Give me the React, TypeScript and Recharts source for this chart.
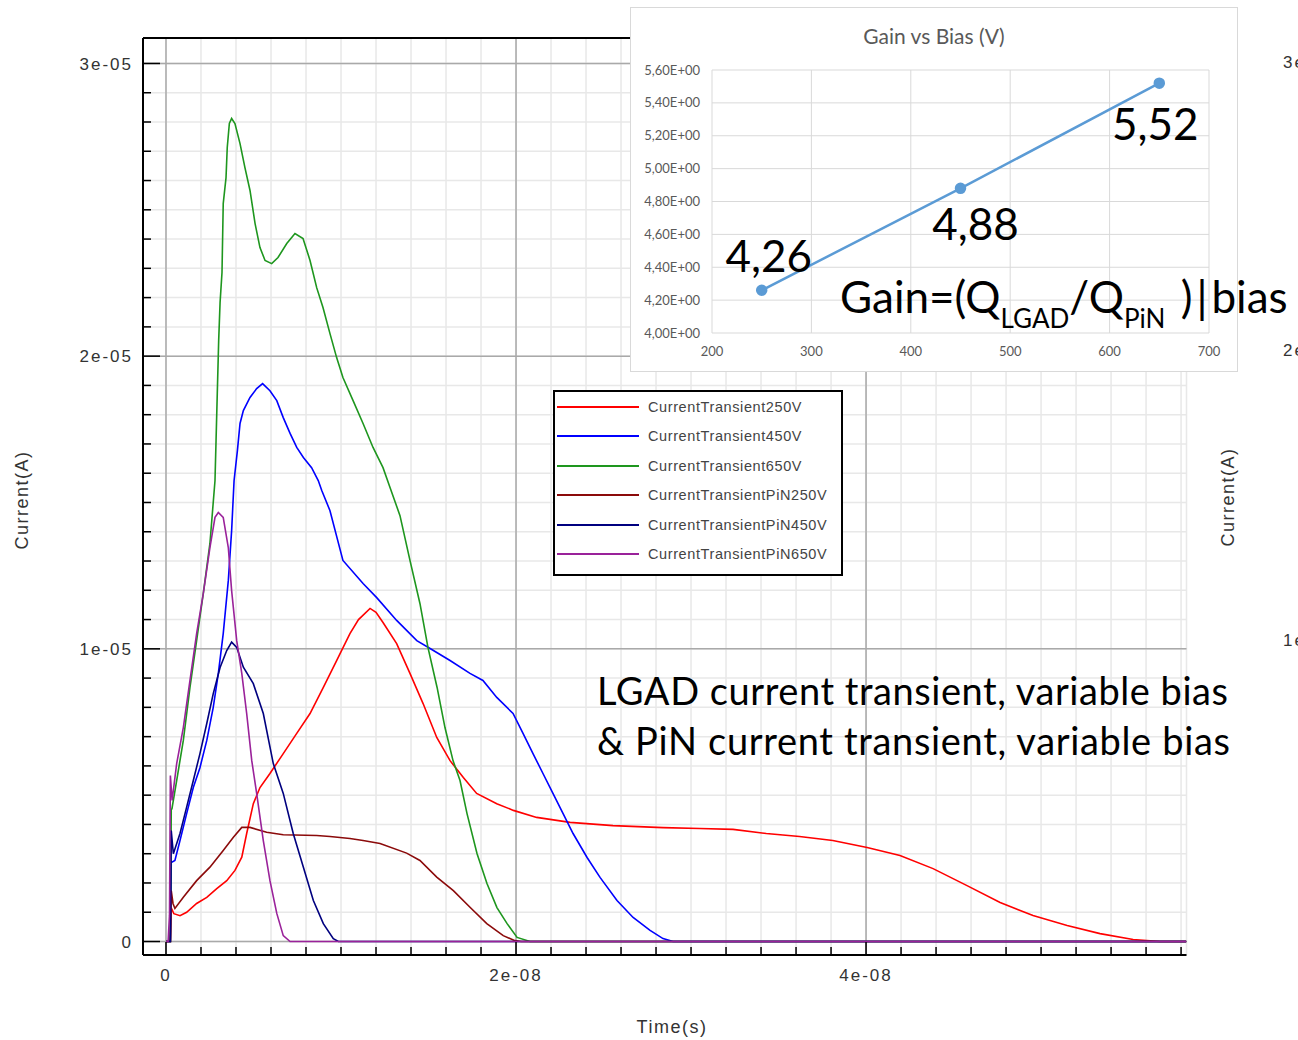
import React from "react";
import {
  LineChart,
  Line,
  XAxis,
  YAxis,
  CartesianGrid,
  ReferenceLine,
  Legend,
  LabelList,
} from "recharts";

// [time (ns), current (µA)]
const lgad250: [number, number][] = [
  [0, 0], [0.25, 0], [0.3, 1.15], [0.45, 0.95], [0.8, 0.88], [1.18, 1.0], [1.75, 1.3],
  [2.33, 1.51], [2.9, 1.81], [3.47, 2.08], [3.94, 2.43], [4.33, 2.88], [4.61, 3.69],
  [4.99, 4.71], [5.37, 5.26], [5.94, 5.74], [6.7, 6.42], [7.47, 7.11], [8.23, 7.79],
  [8.99, 8.68], [9.75, 9.6], [10.51, 10.52], [11.0, 11.0], [11.66, 11.38], [12.0, 11.25],
  [12.4, 10.9], [13.18, 10.18], [13.94, 9.16], [14.69, 8.13], [15.47, 6.97], [16.23, 6.18],
  [16.99, 5.6], [17.75, 5.06], [18.9, 4.71], [19.85, 4.48], [21.18, 4.24], [23.09, 4.07],
  [25.54, 3.96], [28.4, 3.89], [30.5, 3.86], [32.4, 3.83], [34.3, 3.69], [36.2, 3.59],
  [38.1, 3.45], [40.06, 3.21], [41.94, 2.94], [43.83, 2.49], [45.77, 1.91], [47.66, 1.33],
  [49.54, 0.89], [51.49, 0.55], [53.37, 0.27], [55.26, 0.07], [56.8, 0], [58.3, 0],
];

const lgad450: [number, number][] = [
  [0, 0], [0.25, 0], [0.3, 2.7], [0.51, 2.77], [0.8, 3.45], [1.18, 4.37], [1.56, 5.26],
  [1.94, 5.94], [2.33, 6.87], [2.7, 8.0], [2.99, 9.16], [3.27, 10.52], [3.56, 12.33],
  [3.75, 14.04], [3.89, 15.75], [4.08, 16.77], [4.23, 17.7], [4.42, 18.14], [4.8, 18.59],
  [5.18, 18.89], [5.52, 19.06], [5.94, 18.82], [6.33, 18.48], [6.7, 17.9], [7.09, 17.36],
  [7.47, 16.88], [7.85, 16.54], [8.32, 16.19], [8.7, 15.75], [8.9, 15.41], [9.37, 14.72],
  [10.11, 13.02], [11.26, 12.23], [12.04, 11.75], [13.18, 10.97], [14.33, 10.28],
  [15.09, 10.01], [16.23, 9.6], [17.37, 9.16], [18.11, 8.92], [18.9, 8.34], [19.83, 7.79],
  [20.4, 7.11], [20.97, 6.42], [21.54, 5.74], [22.11, 5.06], [22.69, 4.37], [23.26, 3.69],
  [24.06, 2.87], [24.8, 2.19], [25.77, 1.4], [26.69, 0.82], [27.66, 0.38], [28.4, 0.1],
  [28.97, 0], [58.3, 0],
];

const lgad650: [number, number][] = [
  [0, 0], [0.25, 0], [0.3, 4.5], [0.34, 4.54], [0.61, 5.5], [0.99, 6.87], [1.37, 8.68],
  [1.75, 10.28], [2.13, 11.89], [2.51, 13.6], [2.8, 15.75], [2.86, 17.12], [2.93, 18.72],
  [3.01, 20.53], [3.09, 21.83], [3.2, 22.86], [3.27, 25.21], [3.43, 26.1], [3.5, 27.13],
  [3.62, 27.95], [3.75, 28.12], [3.94, 27.95], [4.23, 27.26], [4.51, 26.44], [4.8, 25.66],
  [5.09, 24.53], [5.37, 23.71], [5.66, 23.27], [6.04, 23.16], [6.4, 23.37], [6.9, 23.85],
  [7.37, 24.19], [7.83, 24.02], [8.23, 23.27], [8.61, 22.34], [8.97, 21.66], [9.37, 20.77],
  [9.75, 19.95], [10.11, 19.27], [10.69, 18.48], [11.26, 17.7], [11.83, 16.88],
  [12.4, 16.19], [12.8, 15.51], [13.37, 14.55], [13.94, 13.02], [14.51, 11.55],
  [14.97, 10.04], [15.49, 8.68], [15.94, 7.31], [16.4, 6.18], [16.8, 5.5], [17.2, 4.37],
  [17.77, 3.01], [18.34, 1.98], [18.91, 1.16], [19.49, 0.61], [20.06, 0.14], [20.8, 0],
  [58.3, 0],
];

const pin250: [number, number][] = [
  [0, 0], [0.25, 0], [0.3, 1.74], [0.4, 1.3], [0.51, 1.13], [0.99, 1.51], [1.75, 2.08],
  [2.51, 2.54], [3.27, 3.11], [3.85, 3.56], [4.33, 3.9], [4.8, 3.9], [5.75, 3.73],
  [6.7, 3.65], [8.61, 3.62], [9.37, 3.59], [10.51, 3.52], [11.26, 3.45], [12.23, 3.35],
  [13.75, 3.02], [14.51, 2.77], [15.47, 2.2], [16.42, 1.74], [17.37, 1.17], [18.33, 0.61],
  [19.27, 0.2], [19.94, 0.03], [20.3, 0], [58.3, 0],
];

const pin450: [number, number][] = [
  [0, 0], [0.25, 0], [0.3, 3.79], [0.42, 3.0], [0.8, 3.69], [1.18, 4.59], [1.56, 5.5],
  [1.94, 6.42], [2.33, 7.45], [2.7, 8.47], [3.09, 9.36], [3.47, 9.94], [3.75, 10.23],
  [4.04, 10.05], [4.42, 9.37], [4.99, 8.81], [5.56, 7.79], [6.13, 6.08], [6.7, 5.06],
  [7.27, 3.69], [7.85, 2.54], [8.42, 1.4], [8.99, 0.61], [9.56, 0.1], [9.85, 0], [58.3, 0],
];

const pin650: [number, number][] = [
  [0, 0], [0.12, 0], [0.2, 0.9], [0.25, 5.67], [0.35, 4.82], [0.61, 6.08], [0.99, 7.31],
  [1.37, 8.92], [1.75, 10.52], [2.13, 11.89], [2.51, 13.46], [2.8, 14.49], [2.99, 14.66],
  [3.27, 14.49], [3.56, 13.46], [3.75, 11.99], [4.04, 10.28], [4.33, 9.16], [4.61, 7.79],
  [4.9, 6.18], [5.18, 5.06], [5.56, 3.45], [5.94, 2.08], [6.33, 0.96], [6.7, 0.2],
  [7.09, 0], [58.3, 0],
];

const seriesList = [
  { name: "CurrentTransient250V", points: lgad250, color: "#ff0000" },
  { name: "CurrentTransient450V", points: lgad450, color: "#0000ff" },
  { name: "CurrentTransient650V", points: lgad650, color: "#1e961e" },
  { name: "CurrentTransientPiN250V", points: pin250, color: "#8b0a0a" },
  { name: "CurrentTransientPiN450V", points: pin450, color: "#00007f" },
  { name: "CurrentTransientPiN650V", points: pin650, color: "#9a229a" },
];

const xMajor = [0, 20, 40];
const xMajorLabels = ["0", "2e-08", "4e-08"];
const yMajor = [0, 10, 20, 30];
const yMajorLabels = ["0", "1e-05", "2e-05", "3e-05"];
const xMinor = Array.from({ length: 30 }, (_, i) => i * 2);
const yMinor = Array.from({ length: 31 }, (_, i) => i);

// inset: gain vs bias
const biasV = [250, 450, 650];
const gainVals = [4.26, 4.88, 5.52];
const biasTicks = [200, 300, 400, 500, 600, 700];
const gainTicks = [4.0, 4.2, 4.4, 4.6, 4.8, 5.0, 5.2, 5.4, 5.6];
const gainLabelOffsets = [
  [7, -18],
  [15, 52],
  [-4, 57],
];

// the neighbouring chart's labels, cut by the right edge
const sideLabelY = [62, 350, 640];

const X_DOMAIN: [number, number] = [-1.314, 58.31];
const Y_DOMAIN: [number, number] = [-0.461, 30.87];

const axisFont = "'Liberation Sans', Arial, sans-serif";
const calibriLike = "Lato, 'Open Sans', sans-serif";

function YTick(props: any) {
  const { x, y, payload } = props;
  const idx = yMajor.indexOf(payload.value);
  const major = idx >= 0;
  return (
    <g>
      <line x1={x} x2={x + (major ? 17 : 8)} y1={y} y2={y} stroke="#000" strokeWidth={1.5} />
      {major && (
        <text
          x={x - 10}
          y={y}
          dy="0.36em"
          textAnchor="end"
          fontSize={17}
          fontFamily={axisFont}
          fill="#333"
          style={{ letterSpacing: 2 }}
        >
          {yMajorLabels[idx]}
        </text>
      )}
    </g>
  );
}

function XTick(props: any) {
  const { x, y, payload } = props;
  const idx = xMajor.indexOf(payload.value);
  const major = idx >= 0;
  return (
    <g>
      <line x1={x} x2={x} y1={y} y2={y - (major ? 13 : 8)} stroke="#000" strokeWidth={1.5} />
      {major && (
        <text
          x={x}
          y={y + 20}
          dy="0.36em"
          textAnchor="middle"
          fontSize={17}
          fontFamily={axisFont}
          fill="#333"
          style={{ letterSpacing: 2 }}
        >
          {xMajorLabels[idx]}
        </text>
      )}
    </g>
  );
}

function LegendBox(props: any) {
  const items = props.payload || [];
  return (
    <div
      style={{
        width: 290,
        height: 186,
        boxSizing: "border-box",
        border: "2px solid #000",
        background: "#fff",
        position: "relative",
      }}
    >
      {items.map((it: any, i: number) => (
        <div
          key={it.value}
          style={{
            position: "absolute",
            left: 0,
            top: 15 + i * 29.4 - 10,
            height: 20,
            display: "flex",
            alignItems: "center",
          }}
        >
          <svg width={90} height={20} style={{ display: "block" }}>
            <line x1={2} x2={84} y1={10} y2={10} stroke={it.color} strokeWidth={2} />
          </svg>
          <span
            style={{
              marginLeft: 3,
              fontFamily: axisFont,
              fontSize: 14.5,
              color: "#444",
              letterSpacing: 0.6,
              whiteSpace: "nowrap",
            }}
          >
            {it.value}
          </span>
        </div>
      ))}
    </div>
  );
}

function GainLabel(props: any) {
  const { index, value } = props;
  const vx = props.viewBox?.x ?? props.x;
  const vy = props.viewBox?.y ?? props.y;
  const [dx, dy] = gainLabelOffsets[index] || [0, 0];
  return (
    <text
      x={vx + dx}
      y={vy + dy}
      textAnchor="middle"
      fontSize={44}
      fontFamily={calibriLike}
      fill="#000"
    >
      {String(value).replace(".", ",")}
    </text>
  );
}

export default function App() {
  const gainData = biasV.map((b, i) => ({ bias: b, gain: gainVals[i] }));

  return (
    <div
      style={{
        position: "absolute",
        left: 0,
        top: 0,
        width: 1298,
        height: 1040,
        overflow: "hidden",
        background: "#fff",
      }}
    >
      <div style={{ position: "absolute", left: 0, top: 0 }}>
        <LineChart width={1298} height={1040} margin={{ top: 38, right: 111.5, bottom: 84, left: 142 }}>
          <CartesianGrid stroke="#e8e8e8" strokeWidth={1.5} />
          <XAxis
            dataKey="t"
            type="number"
            domain={X_DOMAIN}
            allowDataOverflow
            ticks={xMinor}
            interval={0}
            height={1}
            tickSize={0}
            tickMargin={0}
            tickLine={false}
            axisLine={{ stroke: "#000", strokeWidth: 2 }}
            tick={<XTick />}
          />
          <YAxis
            type="number"
            domain={Y_DOMAIN}
            allowDataOverflow
            ticks={yMinor}
            interval={0}
            width={1}
            tickSize={0}
            tickMargin={0}
            tickLine={false}
            axisLine={{ stroke: "#000", strokeWidth: 2 }}
            tick={<YTick />}
          />
          {xMajor.map((v) => (
            <ReferenceLine key={"vx" + v} x={v} stroke="#a9a9a9" strokeWidth={1.5} />
          ))}
          {yMajor.map((v) => (
            <ReferenceLine key={"hy" + v} y={v} stroke="#a9a9a9" strokeWidth={1.5} />
          ))}
          <ReferenceLine y={Y_DOMAIN[1]} stroke="#000" strokeWidth={2} ifOverflow="visible" />
          {seriesList.map((s) => (
            <Line
              key={s.name}
              name={s.name}
              data={s.points.map(([t, i]) => ({ t, i }))}
              dataKey="i"
              stroke={s.color}
              strokeWidth={1.6}
              dot={false}
              type="linear"
              isAnimationActive={false}
            />
          ))}
          <Legend
            layout="vertical"
            align="center"
            verticalAlign="middle"
            content={<LegendBox />}
            wrapperStyle={{ left: 553, top: 390, width: 290, height: 186 }}
          />
        </LineChart>
      </div>

      <div
        style={{
          position: "absolute",
          left: 630,
          top: 7,
          width: 608,
          height: 365,
          boxSizing: "border-box",
          border: "1px solid #d9d9d9",
          background: "#fff",
        }}
      >
        <div
          style={{
            position: "absolute",
            left: 0,
            right: 0,
            top: 15,
            textAlign: "center",
            fontFamily: calibriLike,
            fontSize: 21,
            color: "#595959",
            lineHeight: "26px",
          }}
        >
          Gain vs Bias (V)
        </div>
        <LineChart width={606} height={363} data={gainData} margin={{ top: 62, right: 28, bottom: 0, left: 0 }}>
          <CartesianGrid stroke="#d9d9d9" />
          <XAxis
            dataKey="bias"
            type="number"
            domain={[200, 700]}
            ticks={biasTicks}
            interval={0}
            height={38}
            tickSize={0}
            tickMargin={14}
            axisLine={false}
            tickLine={false}
            tick={{ fontSize: 13, fill: "#595959", fontFamily: calibriLike }}
          />
          <YAxis
            type="number"
            domain={[4, 5.6]}
            ticks={gainTicks}
            interval={0}
            width={81}
            tickSize={0}
            tickMargin={12}
            axisLine={false}
            tickLine={false}
            tickFormatter={(v: number) => v.toFixed(2).replace(".", ",") + "E+00"}
            tick={{ fontSize: 13, fill: "#595959", fontFamily: calibriLike }}
          />
          <Line
            dataKey="gain"
            stroke="#5b9bd5"
            strokeWidth={2.5}
            dot={{ r: 4.5, fill: "#5b9bd5", stroke: "#5b9bd5" }}
            isAnimationActive={false}
          >
            <LabelList dataKey="gain" content={<GainLabel />} />
          </Line>
        </LineChart>
      </div>

      <svg
        width={1298}
        height={1040}
        style={{ position: "absolute", left: 0, top: 0, pointerEvents: "none" }}
      >
        <text
          x={22}
          y={500}
          transform="rotate(-90 22 500)"
          textAnchor="middle"
          dy="0.36em"
          fontSize={18}
          fontFamily={axisFont}
          fill="#333"
          style={{ letterSpacing: 1.5 }}
        >
          Current(A)
        </text>
        <text
          x={672}
          y={1027}
          textAnchor="middle"
          dy="0.36em"
          fontSize={18}
          fontFamily={axisFont}
          fill="#333"
          style={{ letterSpacing: 1.5 }}
        >
          Time(s)
        </text>

        <text
          x={597}
          y={705}
          fontSize={38}
          fontFamily={calibriLike}
          fill="#000"
          textLength={631}
          lengthAdjust="spacing"
        >
          LGAD current transient, variable bias
        </text>
        <text
          x={597}
          y={755}
          fontSize={38}
          fontFamily={calibriLike}
          fill="#000"
          textLength={633}
          lengthAdjust="spacing"
        >
          &amp; PiN current transient, variable bias
        </text>

        <text x={840} y={313} fontSize={44} fontFamily={calibriLike} fill="#000">
          Gain=(Q
          <tspan fontSize={26} dy={15}>LGAD</tspan>
          <tspan dy={-15}>/Q</tspan>
          <tspan fontSize={26} dy={15}>PiN</tspan>
          <tspan dy={-15} style={{ letterSpacing: 4 }}>{"\u00a0)|"}</tspan>
          <tspan>bias</tspan>
        </text>

        {yMajorLabels.slice(1).reverse().map((lab, i) => (
          <text
            key={lab}
            x={1283}
            y={sideLabelY[i]}
            dy="0.36em"
            fontSize={17}
            fontFamily={axisFont}
            fill="#333"
            style={{ letterSpacing: 2 }}
          >
            {lab}
          </text>
        ))}
        <text
          x={1228}
          y={497}
          transform="rotate(-90 1228 497)"
          textAnchor="middle"
          dy="0.36em"
          fontSize={18}
          fontFamily={axisFont}
          fill="#333"
          style={{ letterSpacing: 1.5 }}
        >
          Current(A)
        </text>
      </svg>
    </div>
  );
}
